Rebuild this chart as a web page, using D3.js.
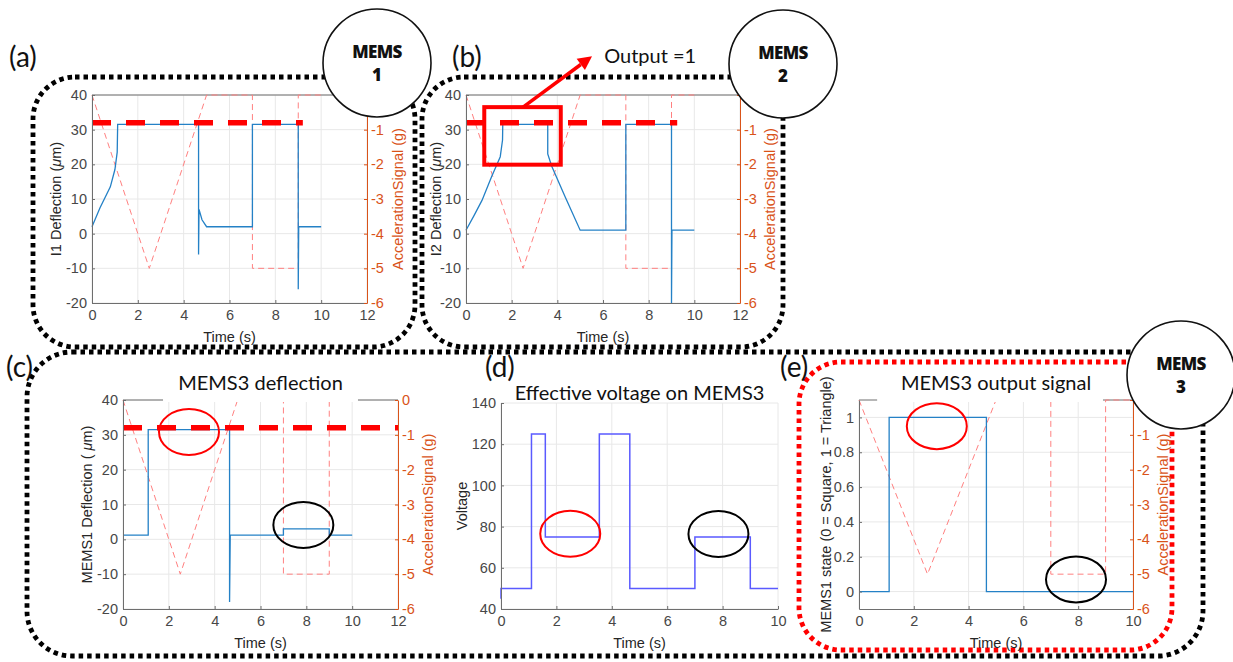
<!DOCTYPE html>
<html><head><meta charset="utf-8">
<script src="https://cdn.jsdelivr.net/npm/d3@7"></script>
<style>body{margin:0;background:#fff}svg{display:block}</style>
</head><body><svg id="c" width="1233" height="662"></svg>
<script>
// ---------------- data ----------------
const accelTime  = [0, 2.5, 5, 7, 7, 9, 9, 10];
const accelValue = [0, -5, 0, 0, -5, -5, 0, 0];

const deflATime  = [0, 0.35, 0.8, 1.0, 1.1, 1.12, 4.65, 4.65, 4.67, 4.8, 5.0, 7.0, 7.0, 9.0, 9.0, 9.02, 10];
const deflAValue = [2, 7.5, 13.5, 18.5, 23.5, 31.5, 31.5, -6, 7, 4, 2, 2, 31.5, 31.5, -16, 2, 2];

const deflBTime  = [0, 0.35, 0.7, 1.12, 1.5, 1.6, 1.61, 3.58, 3.58, 3.75, 4.35, 5.0, 7.0, 7.0, 9.0, 9.0, 9.02, 10];
const deflBValue = [1, 5.2, 9.6, 16.4, 22.2, 27, 31.5, 31.5, 23, 19.5, 10.5, 1, 1, 31.5, 31.5, -20, 1, 1];

const deflCTime  = [0, 1.1, 1.1, 4.65, 4.65, 4.68, 7, 7, 9, 9, 10];
const deflCValue = [1.2, 1.2, 31.5, 31.5, -18, 1.2, 1.2, 3, 3, 1.2, 1.2];

const voltTime  = [0, 0, 1.1, 1.1, 1.6, 1.6, 3.55, 3.55, 4.65, 4.65, 7, 7, 9, 9, 10];
const voltValue = [45, 50, 50, 125, 125, 75, 75, 125, 125, 50, 50, 75, 75, 50, 50];

const stateTime  = [0, 1.1, 1.1, 4.65, 4.65, 10];
const stateValue = [0, 0, 1, 1, 0, 0];

const thresholdValue = 32;
const thresholdEnd = {a: 9.2, b: 9.25, c: 12};

const xTicks12 = [0, 2, 4, 6, 8, 10, 12];
const xTicks10 = [0, 2, 4, 6, 8, 10];
const deflTicks = [-20, -10, 0, 10, 20, 30, 40];
const accelTicks = [-6, -5, -4, -3, -2, -1, 0];
const voltTicks = [40, 60, 80, 100, 120, 140];
const stateTicks = [0, 0.2, 0.4, 0.6, 0.8, 1];

// ---------------- drawing ----------------
const svg = d3.select('#c');
const BLUE = '#2481c6', ORANGE = '#D95319', PINK = '#ff8080', GRID = '#e8e8e8', AX = '#6e6e6e';
const tickFont = '"Liberation Sans", Arial, sans-serif';
const titleFont = 'Lato, "Open Sans", sans-serif';

function zip(t, v) { return t.map((d, i) => [d, v[i]]); }

function panel(cfg) {
  const g = svg.append('g');
  const x = d3.scaleLinear().domain(cfg.xDomain).range([cfg.x0, cfg.x1]);
  const y = d3.scaleLinear().domain(cfg.yDomain).range([cfg.bottom, cfg.top]);
  const y2 = cfg.rightAxis ? d3.scaleLinear().domain([-6, 0]).range([cfg.bottom, cfg.top]) : null;

  g.selectAll('.vg').data(cfg.xTicks).join('line')
    .attr('x1', d => x(d)).attr('x2', d => x(d)).attr('y1', cfg.top).attr('y2', cfg.bottom)
    .attr('stroke', GRID).attr('stroke-width', 1);
  g.selectAll('.hg').data(cfg.yTicks).join('line')
    .attr('y1', d => y(d)).attr('y2', d => y(d)).attr('x1', cfg.x0).attr('x2', cfg.x1)
    .attr('stroke', GRID).attr('stroke-width', 1);

  if (cfg.topSegments) {
    cfg.topSegments.forEach(s => g.append('line')
      .attr('x1', x(s[0])).attr('x2', x(s[1])).attr('y1', cfg.top).attr('y2', cfg.top)
      .attr('stroke', AX).attr('stroke-width', 1));
  }

  const line = d3.line().x(d => x(d[0])).y(d => y(d[1]));
  if (cfg.rightAxis) {
    const l2 = d3.line().x(d => x(d[0])).y(d => y2(d[1]));
    g.append('path').datum(zip(accelTime, accelValue)).attr('d', l2)
      .attr('fill', 'none').attr('stroke', PINK).attr('stroke-width', 1).attr('stroke-dasharray', '6,4');
  }
  g.append('path').datum(zip(cfg.seriesT, cfg.seriesV)).attr('d', line)
    .attr('fill', 'none').attr('stroke', cfg.color || BLUE).attr('stroke-width', cfg.lw || 1.3);

  if (cfg.topGap) {
    g.append('rect').attr('x', x(cfg.topGap[0])).attr('width', x(cfg.topGap[1]) - x(cfg.topGap[0]))
      .attr('y', cfg.top - 2).attr('height', 4).attr('fill', '#fff');
  }

  if (cfg.threshold) {
    g.append('line').attr('x1', x(0)).attr('x2', x(cfg.threshold))
      .attr('y1', y(thresholdValue)).attr('y2', y(thresholdValue))
      .attr('stroke', '#ff0000').attr('stroke-width', 5.5).attr('stroke-dasharray', '19,15');
  }

  const styleAxis = (sel, col, txtCol) => {
    sel.selectAll('path').attr('stroke', col);
    sel.selectAll('line').attr('stroke', col);
    sel.selectAll('text').attr('fill', txtCol).style('font-family', tickFont).style('font-size', '14.5px');
  };
  const fmt = d => (d < 0 ? '-' + Math.abs(d) : String(d));
  const gx = g.append('g').attr('transform', `translate(0,${cfg.bottom})`)
    .call(d3.axisBottom(x).tickValues(cfg.xTicks).tickSizeInner(-3).tickSizeOuter(0).tickPadding(7).tickFormat(fmt));
  styleAxis(gx, AX, '#474747');
  const gy = g.append('g').attr('transform', `translate(${cfg.x0},0)`)
    .call(d3.axisLeft(y).tickValues(cfg.yTicks).tickSizeInner(-3).tickSizeOuter(0).tickPadding(5).tickFormat(fmt));
  styleAxis(gy, AX, '#474747');
  if (cfg.rightAxis) {
    const gr = g.append('g').attr('transform', `translate(${cfg.x1},0)`)
      .call(d3.axisRight(y2).tickValues(accelTicks).tickSizeInner(-3).tickSizeOuter(0).tickPadding(4).tickFormat(fmt));
    styleAxis(gr, ORANGE, ORANGE);
    g.append('text').attr('transform', `translate(${cfg.rLabelX},${(cfg.top + cfg.bottom) / 2}) rotate(-90)`)
      .attr('text-anchor', 'middle').attr('dy', '0.35em').attr('fill', ORANGE)
      .style('font-family', tickFont).style('font-size', '14.5px').text('AccelerationSignal (g)');
  }

  const yl = g.append('text').attr('transform', `translate(${cfg.yLabelX},${(cfg.top + cfg.bottom) / 2}) rotate(-90)`)
    .attr('text-anchor', 'middle').attr('dy', '0.35em').attr('fill', '#262626')
    .style('font-family', tickFont).style('font-size', '14.5px');
  cfg.yLabel.forEach(p => yl.append('tspan').attr('font-style', p.it ? 'italic' : null).text(p.t));
  g.append('text').attr('x', (cfg.x0 + cfg.x1) / 2).attr('y', cfg.bottom + 34).attr('dy', '0.35em')
    .attr('text-anchor', 'middle').attr('fill', '#262626')
    .style('font-family', tickFont).style('font-size', '14.5px').text('Time (s)');
  if (cfg.title) {
    g.append('text').attr('x', (cfg.x0 + cfg.x1) / 2).attr('y', cfg.titleY).attr('dy', '0.35em')
      .attr('text-anchor', 'middle').attr('fill', '#111')
      .style('font-family', titleFont).style('font-size', '20px').text(cfg.title);
  }
  (cfg.ellipses || []).forEach(e => g.append('ellipse').attr('cx', x(e.x)).attr('cy', y(e.y))
    .attr('rx', 30).attr('ry', 23).attr('fill', 'none').attr('stroke', e.c).attr('stroke-width', 2));
  return {x, y};
}

function roundBox(x0, y0, x1, y1, r, col) {
  svg.append('rect').attr('x', x0).attr('y', y0).attr('width', x1 - x0).attr('height', y1 - y0)
    .attr('rx', r).attr('ry', r).attr('fill', 'none').attr('stroke', col)
    .attr('stroke-width', 4.8).attr('stroke-dasharray', '4.5,4');
}
roundBox(33, 77, 415, 347, 42, '#000');
roundBox(422, 77, 783, 347, 42, '#000');
roundBox(27, 352, 1203, 656, 45, '#000');
roundBox(799, 362, 1172, 650, 42, '#ff0000');

panel({x0: 92, x1: 367, top: 95, bottom: 303, xDomain: [0, 12], yDomain: [-20, 40],
  xTicks: xTicks12, yTicks: deflTicks, rightAxis: true, seriesT: deflATime, seriesV: deflAValue,
  topSegments: [[0, 12]], threshold: thresholdEnd.a, yLabelX: 56, rLabelX: 398,
  yLabel: [{t: 'I1 Deflection ('}, {t: 'μ', it: true}, {t: 'm)'}]});

const pb = panel({x0: 466, x1: 740, top: 95, bottom: 303, xDomain: [0, 12], yDomain: [-20, 40],
  xTicks: xTicks12, yTicks: deflTicks, rightAxis: true, seriesT: deflBTime, seriesV: deflBValue,
  topSegments: [[0, 12]], threshold: thresholdEnd.b, yLabelX: 436, rLabelX: 770,
  yLabel: [{t: 'I2 Deflection ('}, {t: 'μ', it: true}, {t: 'm)'}]});

panel({x0: 123, x1: 398, top: 400, bottom: 609, xDomain: [0, 12], yDomain: [-20, 40],
  xTicks: xTicks12, yTicks: deflTicks, rightAxis: true, seriesT: deflCTime, seriesV: deflCValue,
  topSegments: [[0, 1.75], [10.25, 12]], topGap: [1.75, 10.25], threshold: thresholdEnd.c,
  yLabelX: 87, rLabelX: 428, title: 'MEMS3 deflection', titleY: 383,
  yLabel: [{t: 'MEMS1 Deflection ( '}, {t: 'μ', it: true}, {t: 'm)'}],
  ellipses: [{x: 2.88, y: 30.8, c: '#ff0000'}, {x: 7.87, y: 4.1, c: '#000'}]});

panel({x0: 501, x1: 778, top: 403, bottom: 609, xDomain: [0, 10], yDomain: [40, 140],
  xTicks: xTicks10, yTicks: voltTicks, rightAxis: false, seriesT: voltTime, seriesV: voltValue,
  color: '#5a5aff', lw: 1.5, yLabelX: 462, title: 'Effective voltage on MEMS3', titleY: 393,
  yLabel: [{t: 'Voltage'}],
  ellipses: [{x: 2.5, y: 76.5, c: '#ff0000'}, {x: 7.85, y: 76.4, c: '#000'}]});

panel({x0: 859, x1: 1133, top: 400, bottom: 609, xDomain: [0, 10], yDomain: [-0.1, 1.1],
  xTicks: xTicks10, yTicks: stateTicks, rightAxis: true, seriesT: stateTime, seriesV: stateValue,
  topSegments: [[0, 0.67], [8.9, 10]], topGap: [0.67, 8.9], yLabelX: 826, rLabelX: 1163,
  title: 'MEMS3 output signal', titleY: 383,
  yLabel: [{t: 'MEMS1 state (0 = Square, 1 = Triangle)'}],
  ellipses: [{x: 2.84, y: 0.95, c: '#ff0000'}, {x: 7.92, y: 0.07, c: '#000'}]});

const boxB = {x0: 0.8, x1: 4.15, y0: 36.5, y1: 19.9};
svg.append('rect').attr('x', pb.x(boxB.x0)).attr('y', pb.y(boxB.y0))
  .attr('width', pb.x(boxB.x1) - pb.x(boxB.x0)).attr('height', pb.y(boxB.y1) - pb.y(boxB.y0))
  .attr('fill', 'none').attr('stroke', '#ff0000').attr('stroke-width', 4);
const arrowFrom = [2.5, 36.5], arrowTo = [5.52, 51.2];
{
  const ax0 = pb.x(arrowFrom[0]), ay0 = pb.y(arrowFrom[1]), ax1 = pb.x(arrowTo[0]), ay1 = pb.y(arrowTo[1]);
  const ang = Math.atan2(ay1 - ay0, ax1 - ax0), L = 14, W = 7;
  const bx = ax1 - L * Math.cos(ang), by = ay1 - L * Math.sin(ang);
  svg.append('line').attr('x1', ax0).attr('y1', ay0).attr('x2', bx).attr('y2', by)
    .attr('stroke', '#ff0000').attr('stroke-width', 3.5);
  svg.append('path').attr('fill', '#ff0000').attr('d',
    `M${ax1},${ay1}L${bx + W * Math.sin(ang)},${by - W * Math.cos(ang)}L${bx - W * Math.sin(ang)},${by + W * Math.cos(ang)}Z`);
}
svg.append('text').attr('x', pb.x(6.05)).attr('y', 56).attr('dy', '0.35em').attr('fill', '#111')
  .style('font-family', titleFont).style('font-size', '20px').text('Output =1');

const letters = [['(a)', 9, 57], ['(b)', 452, 57], ['(c)', 6, 367], ['(d)', 485, 367], ['(e)', 780, 367]];
letters.forEach(l => svg.append('text').attr('x', l[1]).attr('y', l[2]).attr('dy', '0.35em')
  .attr('fill', '#111').style('font-family', titleFont).style('font-size', '28px').text(l[0]));

const mems = [['1', 377, 63], ['2', 783, 64], ['3', 1181, 375]];
mems.forEach(m => {
  svg.append('circle').attr('cx', m[1]).attr('cy', m[2]).attr('r', 54).attr('fill', '#fff')
    .attr('stroke', '#111').attr('stroke-width', 1.6);
  svg.append('text').attr('x', m[1]).attr('y', m[2] - 11).attr('dy', '0.35em').attr('text-anchor', 'middle')
    .style('font-family', '"Open Sans", sans-serif').style('font-weight', 800).style('font-size', '17px')
    .attr('letter-spacing', '-0.6').attr('fill', '#111').text('MEMS');
  svg.append('text').attr('x', m[1]).attr('y', m[2] + 12).attr('dy', '0.35em').attr('text-anchor', 'middle')
    .style('font-family', '"Open Sans", sans-serif').style('font-weight', 800).style('font-size', '17px')
    .attr('fill', '#111').text(m[0]);
});
</script></body></html>
